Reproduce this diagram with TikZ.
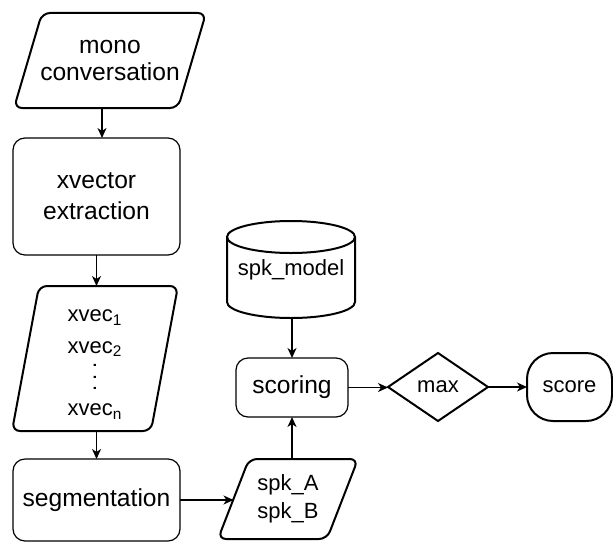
\documentclass[tikz,border=0pt]{standalone}
\usepackage{fontspec}
\setmainfont{Liberation Sans}
\usetikzlibrary{arrows.meta,shapes.geometric,calc}
\newcommand{\mydots}{\raisebox{-3.5pt}[0pt][0pt]{\rotatebox{90}{.\kern2.6pt.\kern2.6pt.}}}
\begin{document}
\begin{tikzpicture}[x=0.5pt,y=0.5pt,
  every node/.style={inner sep=0pt,outer sep=0pt,align=center},
  big/.style={font=\fontsize{12.3}{15.5}\selectfont},
  small/.style={font=\fontsize{11}{14}\selectfont},
  rbox/.style={draw,line width=0.6pt,rounded corners=6pt},
  paraline/.style={line width=1pt,rounded corners=4pt},
  arr/.style={line width=0.75pt,-{Stealth[length=5pt,width=4.5pt,inset=1.5pt]}}
]
\fill[white] (0,0) rectangle (613,542);
\useasboundingbox (0,0) rectangle (613,542);

% nodes
\node[big,minimum width=96pt,minimum height=47.5pt,font=\fontsize{12.3}{13.5}\selectfont] (mono) at (110,481.5) {mono\\conversation};
\node[big,rbox,minimum width=83.5pt,minimum height=58.5pt] (xv) at (96.5,345.5) {xvector\\extraction};
\node[small,minimum width=83pt,minimum height=72.5pt,font=\fontsize{11}{15.7}\selectfont] (xvec) at (95,183.5)
  {\rule{0pt}{12pt}xvec\textsubscript{1}\\xvec\textsubscript{2}\\\mydots\\xvec\textsubscript{n}};
\node[big,rbox,minimum width=83.5pt,minimum height=41pt] (seg) at (96.5,42) {segmentation};
\node[small,minimum width=70pt,minimum height=40pt] (spk) at (288,43) {spk\_A\\spk\_B};
\node[small,minimum width=64pt,minimum height=48.5pt] (cyl) at (291,272.5) {spk\_model};
\node[big,rbox,minimum width=56pt,minimum height=29.5pt] (sc) at (292,154.5) {scoring};
\node[small,diamond,draw,line width=1pt,minimum width=50pt,minimum height=34pt] (max) at (438,155) {max};
\node[small,draw,line width=1pt,rounded corners=13pt,minimum width=42.5pt,minimum height=34pt] (score) at (569.5,155) {score};

% parallelograms
\draw[paraline] ([xshift=14pt]mono.north west) -- (mono.north east) -- ([xshift=-14pt]mono.south east) -- (mono.south west) -- cycle;
\draw[paraline] ([xshift=13.5pt]xvec.north west) -- (xvec.north east) -- ([xshift=-13.5pt]xvec.south east) -- (xvec.south west) -- cycle;
\draw[paraline] ([xshift=15.5pt]spk.north west) -- (spk.north east) -- ([xshift=-15.5pt]spk.south east) -- (spk.south west) -- cycle;

% cylinder
\draw[line width=1pt] (cyl.north west) ++(0,-16) coordinate (ct)
  -- ($(cyl.south west)+(0,16)$)
  arc[start angle=180,end angle=360,x radius=32pt,y radius=8pt]
  -- ($(cyl.north east)+(0,-16)$)
  arc[start angle=0,end angle=180,x radius=32pt,y radius=8pt] -- cycle;
\draw[line width=1pt] (ct) arc[start angle=180,end angle=360,x radius=32pt,y radius=8pt];

% connectors
\coordinate (spkL) at ([xshift=7.75pt]spk.west);
\draw[arr] ([xshift=-4pt]mono.south) -- ([xshift=-4pt]mono.south |- xv.north);
\draw[arr] (xv.south) -- (xvec.north -| xv.south);
\draw[arr] (xvec.south -| seg.north) -- (seg.north);
\draw[arr] (seg.east) -- (seg.east -| spkL);
\draw[arr] (sc.south |- spk.north) -- (sc.south);
\draw[arr] (cyl.south -| sc.north) -- (sc.north);
\draw[arr] (sc.east) -- (sc.east -| max.west);
\draw[arr] (max.east) -- (max.east -| score.west);
\end{tikzpicture}
\end{document}
